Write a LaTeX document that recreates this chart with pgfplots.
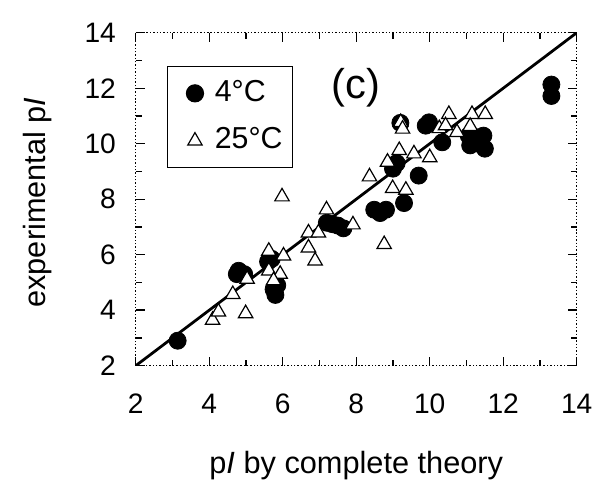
\documentclass[border=0pt]{standalone}
\usepackage{fontspec}
\setmainfont{Liberation Sans}
\usepackage{pgfplots}
\pgfplotsset{compat=1.18}

\begin{document}
\begin{tikzpicture}
\begin{axis}[
    scale only axis,
    width=222.5pt, height=168pt,
    xmin=2, xmax=14, ymin=2, ymax=14,
    xtick={2,4,...,14}, ytick={2,4,...,14},
    minor tick num=1,
    tick align=inside,
    major tick length=4.5pt, minor tick length=3pt,
    axis line style={densely dotted, line width=0.7pt},
    tick style={solid, black, line width=0.7pt},
    /pgf/number format/assume math mode=true,
    tick label style={font=\fontsize{14.2}{16}\selectfont},
    xticklabel style={anchor=center, yshift=-19pt},
    yticklabel style={anchor=east, xshift=-6.5pt},
    xlabel={p\textit{I} by complete theory},
    ylabel={experimental p\textit{I}},
    label style={font=\fontsize{15.5}{18}\selectfont},
    x label style={at={(axis description cs:0.5,-0.324)}, anchor=base},
    y label style={at={(axis description cs:-0.205,0.49)}, anchor=base},
    legend image code/.code={
        \path[draw=none, fill=none] (0pt,-4pt) rectangle (19pt,4pt);
        \draw[#1] plot coordinates {(11pt,0pt)};
    },
    legend style={at={(axis description cs:0.07,0.9)}, anchor=north west,
        draw=black, line width=0.6pt, inner xsep=3pt, inner ysep=4.5pt,
        font=\fontsize{15.3}{18}\selectfont, row sep=6pt,
        nodes={text height=11pt, text depth=3pt, inner ysep=2pt}},
    legend cell align=left,
]
% y = x reference line
\addplot[black, line width=1.4pt, forget plot] coordinates {(2,2) (14,14)};

% 4 C
\addplot[only marks, mark=*, mark size=4.3pt, black] coordinates {
    (3.14,2.90)
    (4.75,5.30) (4.80,5.42) (4.95,5.30)
    (5.60,5.75) (5.70,5.85)
    (5.75,4.75) (5.80,4.55) (5.85,4.90)
    (7.20,7.15) (7.35,7.10) (7.50,7.05) (7.65,6.95)
    (8.49,7.62) (8.65,7.50) (8.81,7.62)
    (9.30,7.86)
    (9.00,9.10) (9.10,9.30)
    (9.70,8.85)
    (9.20,10.75)
    (9.89,10.65) (9.98,10.77)
    (10.34,10.05)
    (11.06,10.29) (11.28,10.23) (11.46,10.29)
    (11.10,9.94) (11.33,10.00) (11.50,9.82)
    (13.31,12.13) (13.31,11.72)
};

% 25 C
\addplot[only marks, mark=triangle*, mark size=4.2pt,
    mark options={fill=white, draw=black, line width=0.6pt}] coordinates {
    (4.09,3.64) (4.25,3.94) (4.64,4.57) (4.99,3.88) (5.03,5.12)
    (5.62,6.13) (5.62,5.42) (5.93,5.30) (5.75,5.07) (6.02,5.96)
    (5.98,8.09)
    (6.70,6.79) (6.97,6.79) (6.70,6.25) (6.88,5.78)
    (7.19,7.62) (7.91,7.08)
    (8.36,8.81) (8.76,6.37) (8.99,8.39) (9.35,8.33)
    (9.17,9.76) (8.85,9.34) (9.57,9.64)
    (9.21,10.77) (9.26,10.53)
    (10.00,9.50)
    (10.26,10.55) (10.52,11.06) (10.43,10.65) (10.74,10.41)
    (11.15,11.06) (11.10,10.63) (11.51,11.06)
};
\legend{4°C, 25°C}

\node[font=\fontsize{21}{24}\selectfont] at (axis cs:8.0,12.0) {(c)};
\end{axis}
\path (current axis.south west) ++(-68.5pt,-57pt) rectangle ++(299.5pt,241.5pt);
\end{tikzpicture}
\end{document}
